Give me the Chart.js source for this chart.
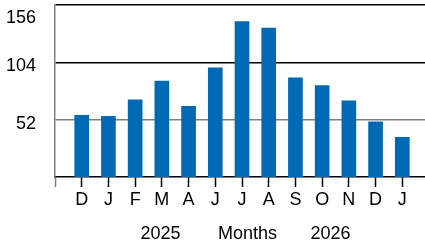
<!DOCTYPE html>
<html><head><meta charset="utf-8">
<script src="https://cdn.jsdelivr.net/npm/chart.js@4.4.1/dist/chart.umd.min.js"></script>
<style>html,body{margin:0;padding:0;background:#fff;overflow:hidden;width:425px;height:247px}#wrap{width:425px;height:247px;overflow:hidden}canvas{display:block}</style>
</head><body><div id="wrap"><canvas id="c" width="429" height="247"></canvas></div>
<script>
const months = ['D','J','F','M','A','J','J','A','S','O','N','D','J'];
const values = [56, 55, 70, 87, 64, 99, 141, 135, 90, 83, 69, 50, 36];
const yTicks = [52, 104, 156];
const axisTitle = 'Months';
const yearLeft = '2025';
const yearRight = '2026';

const labels = [''].concat(months, ['']);
const data = [null].concat(values, [null]);
const FONT = '"Liberation Sans", Arial, sans-serif';

const extraText = {
  id: 'extraText',
  afterDraw(chart) {
    const c = chart.ctx;
    const y = chart.scales.y;
    c.save();
    c.font = '18px ' + FONT;
    c.fillStyle = '#000';
    c.textBaseline = 'middle';
    c.textAlign = 'right';
    yTicks.forEach(v => {
      let py = y.getPixelForValue(v) + 4;
      if (py < 18.5) py = 18.5;
      c.fillText(String(v), 36, py);
    });
    c.textAlign = 'center';
    c.fillText(yearLeft, 160.5, 234);
    c.fillText(axisTitle, 247.5, 234);
    c.fillText(yearRight, 330.5, 234);
    c.restore();
  }
};

new Chart(document.getElementById('c'), {
  type: 'bar',
  data: { labels, datasets: [{ data, backgroundColor: '#0069b4', barThickness: 14 }] },
  options: {
    responsive: false, animation: false, devicePixelRatio: 1,
    layout: { padding: { top: 5, left: 0, right: 0, bottom: 0 } },
    plugins: { legend: { display: false }, tooltip: { enabled: false } },
    scales: {
      x: {
        offset: false,
        border: { color: '#000', width: 1.5 },
        grid: { offset: false, drawOnChartArea: false, drawTicks: true, tickLength: 10,
          tickColor: (ctx) => ctx.index === 0 ? '#808080' : (ctx.index === labels.length - 1 ? 'rgba(0,0,0,0)' : '#000'),
          tickWidth: 1.5 },
        ticks: { color: '#000', font: { family: FONT, size: 18 }, padding: 2, maxRotation: 0, autoSkip: false },
        afterFit(s) { s.height = 70; s.paddingLeft = 0; s.paddingRight = 0; }
      },
      y: {
        min: 0, max: 156,
        afterBuildTicks(s) { s.ticks = yTicks.map(v => ({ value: v })); },
        border: { color: '#808080', width: 1.5 },
        grid: { drawTicks: false, lineWidth: 1.5,
          color: (ctx) => ctx.tick && ctx.tick.value === 52 ? '#808080' : '#000' },
        ticks: { display: false },
        afterFit(s) { s.width = 55; s.paddingTop = 0; s.paddingBottom = 0; }
      }
    }
  },
  plugins: [extraText]
});
</script></body></html>
